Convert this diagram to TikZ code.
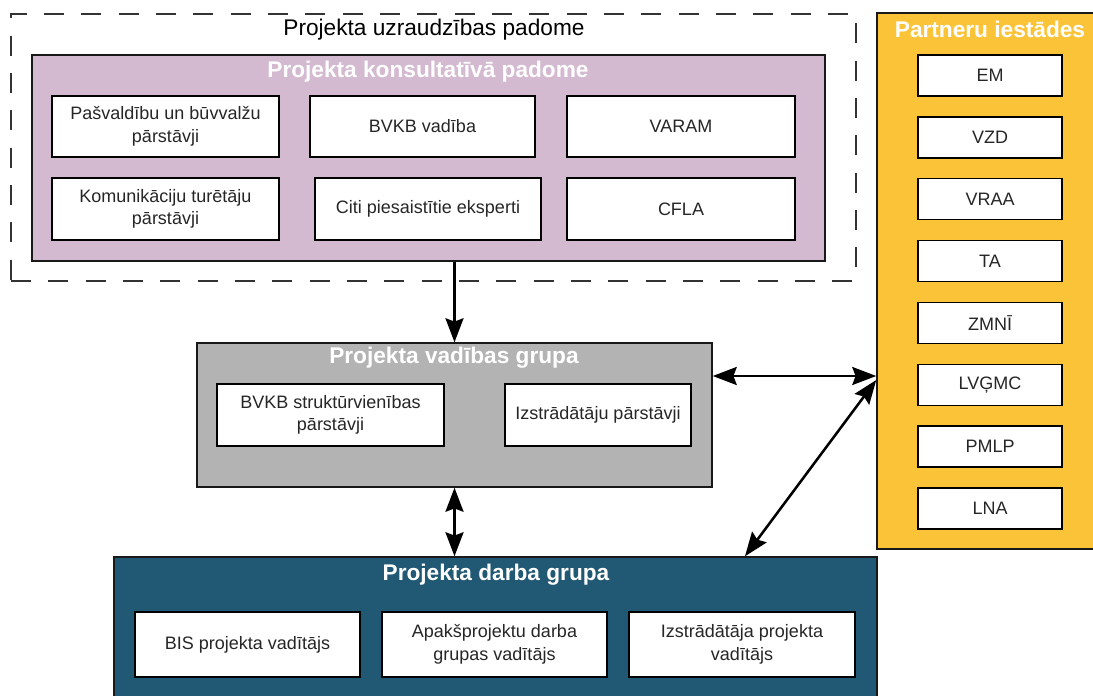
\documentclass[tikz,border=0pt]{standalone}
\usepackage{fontspec}
\setmainfont{Liberation Sans}
\usetikzlibrary{arrows.meta,positioning}
\definecolor{konsultc}{HTML}{D4BAD0}
\definecolor{partnc}{HTML}{FBC438}
\definecolor{vadc}{HTML}{B3B3B3}
\definecolor{darbc}{HTML}{215873}
\begin{document}
\begin{tikzpicture}[x=0.75pt,y=-0.75pt]
  \tikzstyle{grp}=[rectangle,draw=black!90,line width=1.1pt,inner sep=0pt]
  \tikzstyle{item}=[rectangle,draw=black,line width=1.1pt,fill=white,align=center,
    text=black!85,font=\fontsize{13.5}{17}\selectfont]
  \tikzstyle{title}=[text=white,font=\bfseries\fontsize{17}{20}\selectfont]
  \tikzstyle{arr}=[line width=1.9pt,-{Stealth[length=18pt,width=13.5pt,inset=2.5pt]}]
  \tikzstyle{dblarr}=[line width=1.9pt,{Stealth[length=18pt,width=13.5pt,inset=2.5pt]}-{Stealth[length=18pt,width=13.5pt,inset=2.5pt]}]
  \useasboundingbox (0,0) rectangle (1093,696);

  % uzraudzibas padome
  \node[grp,draw=black!80,dash pattern=on 15pt off 13pt,minimum width=633.75pt,minimum height=200.25pt] (uzr) at (433.5,147.5) {};
  \node[font=\fontsize{17}{20}\selectfont] (uzrT) at (434,30) {Projekta uzraudzības padome};
  \node[grp,fill=konsultc,minimum width=594.75pt,minimum height=154.5pt] (konsult) at (428.5,158) {};
  \node[title] (konsultT) at (428,72) {Projekta konsultatīvā padome};
  \node[item,minimum width=170.25pt,minimum height=45.75pt] (k1) at (165.5,126.5) {Pašvaldību un būvvalžu\\pārstāvji};
  \node[item,minimum width=168.75pt,minimum height=45.75pt] (k2) at (422.5,126.5) {BVKB vadība};
  \node[item,minimum width=171pt,minimum height=45.75pt] (k3) at (681,126.5) {VARAM};
  \node[item,minimum width=170.25pt,minimum height=46.5pt] (k4) at (165.5,209) {Komunikāciju turētāju\\pārstāvji};
  \node[item,minimum width=169.5pt,minimum height=46.5pt] (k5) at (428,209) {Citi piesaistītie eksperti};
  \node[item,minimum width=171pt,minimum height=46.5pt] (k6) at (681,209) {CFLA};

  % partneri
  \node[grp,fill=partnc,minimum width=178.5pt,minimum height=402pt] (partn) at (996,281) {};
  \node[title] (partnT) at (990,29) {Partneru iestādes};
  \foreach \lbl [count=\i from 0] in {EM,VZD,VRAA,TA,ZMNĪ,LVĢMC,PMLP,LNA}
    \node[item,minimum width=108pt,minimum height=30.75pt] (p\i) at (990,{75.5+61.86*\i}) {\lbl};

  % vadibas grupa
  \node[grp,fill=vadc,minimum width=386.25pt,minimum height=108pt] (vad) at (454.5,415) {};
  \node[title] (vadT) at (454,358) {Projekta vadības grupa};
  \node[item,minimum width=170.25pt,minimum height=46.5pt] (v1) at (330.5,415) {BVKB struktūrvienības\\pārstāvji};
  \node[item,minimum width=139.5pt,minimum height=46.5pt] (v2) at (598,415) {Izstrādātāju pārstāvji};

  % darba grupa
  \node[grp,fill=darbc,minimum width=572.25pt,minimum height=122.25pt] (darbs) at (495.5,638.5) {};
  \node[title] (darbsT) at (496,575) {Projekta darba grupa};
  \node[item,minimum width=168.75pt,minimum height=48.75pt] (d1) at (247.5,644.5) {BIS projekta vadītājs};
  \node[item,minimum width=168.75pt,minimum height=48.75pt] (d2) at (494.5,644.5) {Apakšprojektu darba\\grupas vadītājs};
  \node[item,minimum width=169.5pt,minimum height=48.75pt] (d3) at (742,644.5) {Izstrādātāja projekta\\vadītājs};

  \draw[arr] (vad.north |- konsult.south) -- (vad.north);
  \draw[dblarr] (vad.east |- 0,376) -- (partn.west |- 0,376);
  \draw[dblarr] (vad.south) -- (vad.south |- darbs.north);
  \draw[dblarr] (darbs.north -| 745,0) -- (partn.west |- 0,380);
\end{tikzpicture}
\end{document}
